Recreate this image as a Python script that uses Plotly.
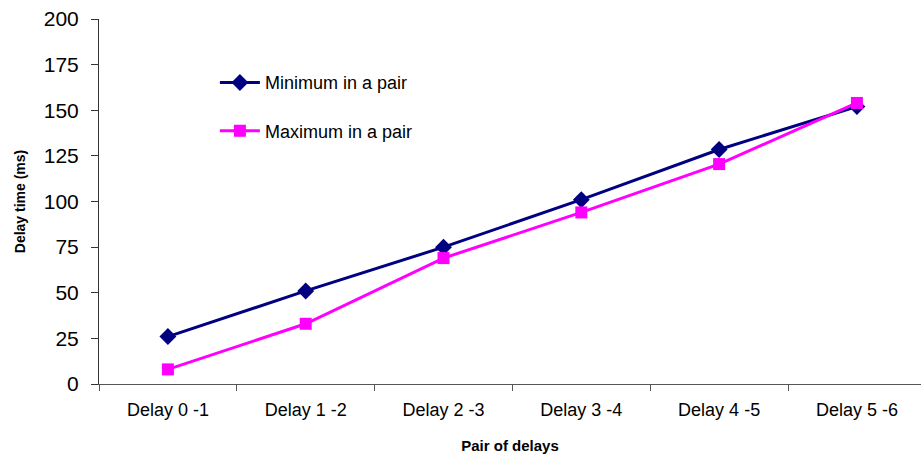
import plotly.graph_objects as go

# Category labels for each pair of consecutive delays
pairs = ["Delay 0 -1", "Delay 1 -2", "Delay 2 -3", "Delay 3 -4", "Delay 4 -5", "Delay 5 -6"]

# Delay times (ms)
min_in_pair = [26, 51, 75, 101, 128.5, 152]
max_in_pair = [8, 33, 69, 94, 120.5, 154]

y_ticks = [0, 25, 50, 75, 100, 125, 150, 175, 200]

FONT = "Liberation Sans, Arial, sans-serif"

fig = go.Figure()
fig.add_trace(go.Scatter(
    x=pairs, y=min_in_pair, name="Minimum in a pair",
    mode="lines+markers", legendgroup="min",
    line=dict(color="#000080", width=3),
    marker=dict(symbol="diamond", size=13, color="#000080"),
))
fig.add_trace(go.Scatter(
    x=pairs, y=max_in_pair, name="Maximum in a pair",
    mode="lines+markers", legendgroup="max",
    line=dict(color="#FF00FF", width=3),
    marker=dict(symbol="square", size=12, color="#FF00FF"),
))

fig.update_layout(
    width=922, height=454,
    margin=dict(l=99, r=1, t=19, b=70, autoexpand=False),
    paper_bgcolor="white", plot_bgcolor="white",
    font=dict(family=FONT, color="black"),
    showlegend=True,
    legend=dict(
        x=0.141, y=0.876, xanchor="left", yanchor="top",
        font=dict(size=18, color="black"),
        bgcolor="rgba(0,0,0,0)",
        tracegroupgap=22,
        itemwidth=40,
    ),
    xaxis=dict(
        type="category",
        range=[-0.5, 5.465],
        showline=True, linecolor="#555555", linewidth=1,
        ticks="outside", tickson="boundaries", ticklen=6, tickcolor="#555555",
        tickfont=dict(size=18), tickangle=0, ticklabelstandoff=9,
        showgrid=False, zeroline=False,
        title=dict(text="<b>Pair of delays</b>", font=dict(size=15), standoff=22),
    ),
    yaxis=dict(
        range=[0, 200],
        tickvals=y_ticks,
        showline=True, linecolor="#333333", linewidth=1,
        ticks="outside", ticklen=7, tickcolor="#333333",
        tickfont=dict(size=21), ticklabelstandoff=8,
        showgrid=False, zeroline=False,
        title=dict(text="<b>Delay time (ms)</b>", font=dict(size=14), standoff=14),
    ),
)

fig.write_html("out.html")
